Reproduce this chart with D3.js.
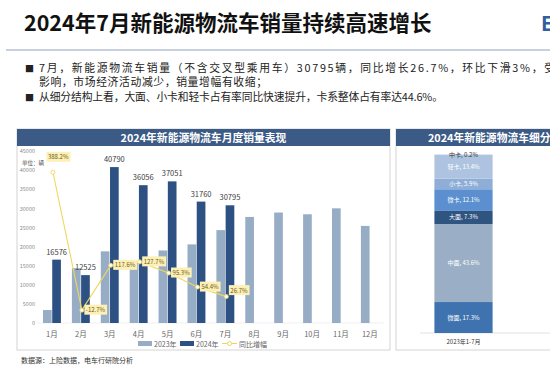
<!DOCTYPE html>
<html>
<head>
<meta charset="utf-8">
<script src="https://cdn.jsdelivr.net/npm/d3@7"></script>
<style>
  html, body { margin: 0; padding: 0; background: #ffffff; overflow: hidden; }
  svg { display: block; }
</style>
</head>
<body>
<script>
const months = ['1月', '2月', '3月', '4月', '5月', '6月', '7月', '8月', '9月', '10月', '11月', '12月'];
const sales2023 = [3395, 14347, 18746, 15835, 18971, 20570, 24305, 27750, 28900, 28450, 30000, 25400];
const sales2024 = [16576, 12525, 40790, 36056, 37051, 31760, 30795];
const yoy = [388.2, -12.7, 117.6, 127.7, 95.3, 54.4, 26.7];
const yTicks = [0, 5000, 10000, 15000, 20000, 25000, 30000, 35000, 40000, 45000];

const segments = ['微面', '中面', '大面', '微卡', '小卡', '轻卡', '中卡'];
const segShares = [17.3, 43.6, 7.3, 12.1, 5.9, 13.4, 0.2];
const segCategory = '2023年1-7月';

const bullets = [
  '7月，新能源物流车销量（不含交叉型乘用车）30795辆，同比增长26.7%，环比下滑3%，受',
  '影响，市场经济活动减少，销量增幅有收缩；',
  '从细分结构上看，大面、小卡和轻卡占有率同比快速提升，卡系整体占有率达44.6%。'
];

const palette = {
  light: '#97adc6',
  dark: '#2d5182',
  header: '#3b5a85',
  line: '#f0d65c',
  labelBg: '#fcf0b6',
  text: '#333333',
  muted: '#8c8c8c',
  border: '#d4d4d4'
};
const segColors = ['#3f73b0', '#9aafc6', '#2f5480', '#5b8fcf', '#8eaed8', '#aec3df', '#c9d7ea'];
const font = '"Noto Sans CJK SC", "Noto Sans", sans-serif';

const width = 550, height = 378;
const svg = d3.select('body').append('svg')
  .attr('width', width)
  .attr('height', height)
  .style('font-family', font);

// page title
svg.append('text')
  .attr('x', 24).attr('y', 31)
  .attr('font-size', 21.5).attr('font-weight', 700)
  .attr('fill', '#111')
  .text('2024年7月新能源物流车销量持续高速增长');
svg.append('text')
  .attr('x', 541).attr('y', 31)
  .attr('font-size', 20).attr('font-weight', 700)
  .attr('fill', '#2f5fa0')
  .text('E');
svg.append('line')
  .attr('x1', 6).attr('x2', width)
  .attr('y1', 50).attr('y2', 50)
  .attr('stroke', '#8fa3c0').attr('stroke-width', 1.2);

// bullets
const bulletY = [72, 85.5, 101];
const bulletLen = [516, 228, 404];
bullets.forEach((t, i) => {
  if (i !== 1) {
    svg.append('text')
      .attr('x', 25).attr('y', bulletY[i])
      .attr('font-size', 9).attr('fill', '#222')
      .text('■');
  }
  svg.append('text')
    .attr('x', 39).attr('y', bulletY[i])
    .attr('font-size', 10.8).attr('fill', '#222')
    .attr('textLength', bulletLen[i])
    .attr('lengthAdjust', 'spacing')
    .text(t);
});

// panels
function panel(x0, x1, title, tx) {
  svg.append('rect')
    .attr('x', x0).attr('y', 129)
    .attr('width', x1 - x0).attr('height', 221)
    .attr('fill', '#fff').attr('stroke', palette.border);
  svg.append('rect')
    .attr('x', x0).attr('y', 129)
    .attr('width', x1 - x0).attr('height', 17)
    .attr('fill', palette.header);
  svg.append('text')
    .attr('x', tx == null ? (x0 + x1) / 2 : tx).attr('y', 141.5)
    .attr('text-anchor', tx == null ? 'middle' : 'start')
    .attr('font-size', 10.8).attr('font-weight', 700)
    .attr('fill', '#fff')
    .text(title);
}
panel(17, 390, '2024年新能源物流车月度销量表现');
panel(396, 720, '2024年新能源物流车细分市场结构', 428);

// left chart
const x = d3.scaleBand().domain(months).range([37.5, 384.3]).paddingInner(0.38).paddingOuter(0.19);
const xSub = d3.scaleBand().domain(['2023', '2024']).range([0, x.bandwidth()]).paddingInner(0.06);
const y = d3.scaleLinear().domain([0, 45000]).range([323, 151]);
const y2 = d3.scaleLinear().domain([-50, 450]).range([323, 151]);

const yAxis = svg.append('g')
  .attr('transform', 'translate(36,0)')
  .call(d3.axisLeft(y).tickValues(yTicks).tickFormat(d3.format('d')).tickSize(0).tickPadding(1));
yAxis.select('.domain').remove();
yAxis.selectAll('text').attr('font-size', 5.5).attr('fill', palette.muted).style('font-family', font);

svg.append('text')
  .attr('x', 22).attr('y', 165)
  .attr('font-size', 5.5).attr('fill', '#555')
  .text('单位：辆');

svg.append('line')
  .attr('x1', 37).attr('x2', 384)
  .attr('y1', y(0)).attr('y2', y(0))
  .attr('stroke', '#e6e6e6').attr('stroke-width', 0.6);

svg.append('g').selectAll('rect')
  .data(sales2023)
  .join('rect')
  .attr('x', (d, i) => x(months[i]) + xSub('2023'))
  .attr('y', d => y(d))
  .attr('width', xSub.bandwidth())
  .attr('height', d => y(0) - y(d))
  .attr('fill', palette.light);

svg.append('g').selectAll('rect')
  .data(sales2024)
  .join('rect')
  .attr('x', (d, i) => x(months[i]) + xSub('2024'))
  .attr('y', d => y(d))
  .attr('width', xSub.bandwidth())
  .attr('height', d => y(0) - y(d))
  .attr('fill', palette.dark);

svg.append('g').selectAll('text')
  .data(sales2024)
  .join('text')
  .attr('x', (d, i) => x(months[i]) + xSub('2024') + xSub.bandwidth() / 2)
  .attr('y', d => y(d) - 5)
  .attr('text-anchor', 'middle')
  .attr('font-size', 7.5)
  .attr('fill', '#404040')
  .text(d => d);

const xAxis = svg.append('g')
  .attr('transform', `translate(0,${y(0)})`)
  .call(d3.axisBottom(x).tickSize(0).tickPadding(9));
xAxis.select('.domain').remove();
xAxis.selectAll('text').attr('font-size', 7.5).attr('fill', '#666').style('font-family', font);

// yoy line
const cx = i => x(months[i]) + x.bandwidth() / 2 + 1;
const line = d3.line().x((d, i) => cx(i)).y(d => y2(d));
svg.append('path')
  .datum(yoy)
  .attr('d', line)
  .attr('fill', 'none')
  .attr('stroke', palette.line)
  .attr('stroke-width', 1.1);
svg.append('g').selectAll('circle')
  .data(yoy)
  .join('circle')
  .attr('cx', (d, i) => cx(i))
  .attr('cy', d => y2(d))
  .attr('r', 2)
  .attr('fill', '#fff')
  .attr('stroke', palette.line)
  .attr('stroke-width', 0.9);

const lab = svg.append('g');
yoy.forEach((v, i) => {
  let lx = cx(i) + 4, ly = y2(v) + 2;
  if (i === 0) { lx = cx(i) - 5; ly = y2(v) - 13; }
  if (i === yoy.length - 1) { ly = y2(v) - 4; }
  const g = lab.append('g');
  const t = g.append('text')
    .attr('x', lx).attr('y', ly)
    .attr('font-size', 6)
    .attr('fill', '#6b5d1a')
    .text(v.toFixed(1) + '%');
  const bb = t.node().getBBox();
  g.insert('rect', 'text')
    .attr('x', bb.x - 1.5).attr('y', bb.y - 0.5)
    .attr('width', bb.width + 3).attr('height', bb.height + 1)
    .attr('fill', palette.labelBg);
});

// legend
const legend = svg.append('g').attr('transform', 'translate(138,344)');
legend.append('rect').attr('x', 0).attr('y', -3).attr('width', 14).attr('height', 5).attr('fill', palette.light);
legend.append('text').attr('x', 16).attr('y', 2.5).attr('font-size', 7).attr('fill', '#666').text('2023年');
legend.append('rect').attr('x', 42).attr('y', -3).attr('width', 14).attr('height', 5).attr('fill', palette.dark);
legend.append('text').attr('x', 58).attr('y', 2.5).attr('font-size', 7).attr('fill', '#666').text('2024年');
legend.append('line').attr('x1', 84).attr('x2', 99).attr('y1', -0.5).attr('y2', -0.5).attr('stroke', palette.line);
legend.append('circle').attr('cx', 91.5).attr('cy', -0.5).attr('r', 2).attr('fill', '#fff').attr('stroke', palette.line);
legend.append('text').attr('x', 101).attr('y', 2.5).attr('font-size', 7).attr('fill', '#666').text('同比增幅');

// right stacked bar
const xs = d3.scaleBand().domain([segCategory]).range([415, 512]).padding(0.25);
const ys = d3.scaleLinear().domain([0, 100]).range([333, 154]);
let acc = 0;
const stacked = segShares.map((v, i) => {
  const s = { name: segments[i], v, y0: acc, y1: acc + v, color: segColors[i] };
  acc += v;
  return s;
});
svg.append('line')
  .attr('x1', 420).attr('x2', 550)
  .attr('y1', ys(0)).attr('y2', ys(0))
  .attr('stroke', '#d9d9d9').attr('stroke-width', 0.8);
svg.append('g').selectAll('rect')
  .data(stacked)
  .join('rect')
  .attr('x', xs(segCategory))
  .attr('y', d => ys(d.y1))
  .attr('width', xs.bandwidth())
  .attr('height', d => ys(d.y0) - ys(d.y1))
  .attr('fill', d => d.color);
svg.append('g').selectAll('text')
  .data(stacked)
  .join('text')
  .attr('x', xs(segCategory) + xs.bandwidth() / 2)
  .attr('y', d => d.v < 1 ? ys(d.y1) + 3 : (ys(d.y0) + ys(d.y1)) / 2 + 2)
  .attr('text-anchor', 'middle')
  .attr('font-size', 6)
  .attr('fill', d => d.v < 1 ? '#333' : '#fff')
  .text(d => `${d.name}, ${d.v}%`);
svg.append('text')
  .attr('x', xs(segCategory) + xs.bandwidth() / 2)
  .attr('y', 344)
  .attr('text-anchor', 'middle')
  .attr('font-size', 6)
  .attr('fill', '#333')
  .text(segCategory);

// source
svg.append('text')
  .attr('x', 21).attr('y', 363)
  .attr('font-size', 7).attr('fill', '#333')
  .text('数据源：上险数据，电车行研院分析');
</script>
</body>
</html>
